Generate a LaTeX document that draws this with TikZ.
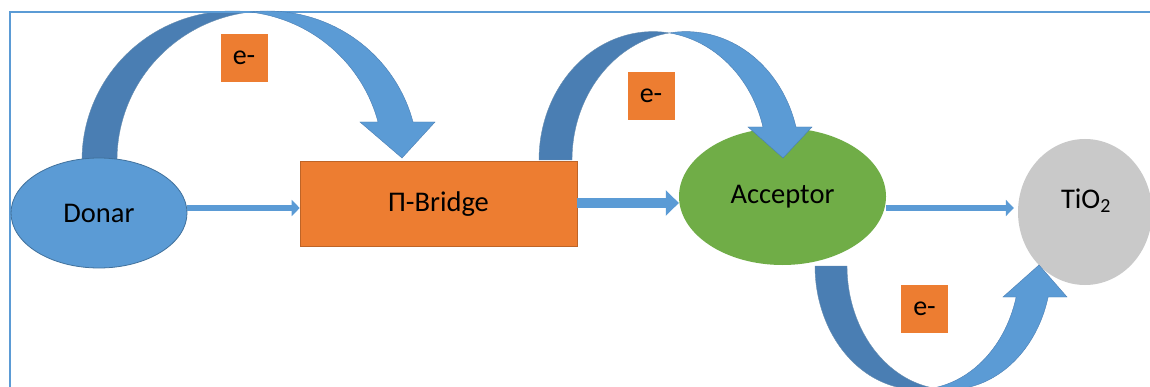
\documentclass[tikz,border=0pt]{standalone}
\usepackage{fontspec}
\setmainfont{Carlito}
\usetikzlibrary{shapes.geometric,arrows.meta}
\definecolor{pblue}{HTML}{5B9BD5}
\definecolor{dblue}{HTML}{41719C}
\definecolor{sblue}{HTML}{4A7EB3}
\definecolor{porange}{HTML}{ED7D31}
\definecolor{pgreen}{HTML}{70AD47}
\definecolor{pgray}{HTML}{C9C9C9}
\tikzset{
  lbl/.style={font=\fontsize{28.5}{32}\selectfont, text=black},
  ebox/.style={fill=porange, minimum width=47pt, minimum height=48pt, inner sep=0pt, font=\fontsize{28}{32}\selectfont},
  harrow/.style={pblue, line width=#1, -{Triangle[length=8pt,width=16pt]}},
  darkpart/.style={fill=sblue, draw=dblue!80, line width=0.4pt},
  lightpart/.style={fill=pblue, draw=sblue, line width=0.4pt},
}
\begin{document}
\begin{tikzpicture}[x=1pt,y=-1pt]
\useasboundingbox (0,0) rectangle (1150,387);
\fill[white] (0,0) rectangle (1150,387);

% back (darker) halves of the curved arrows
\filldraw[darkpart] plot[domain=180:83.3,samples=50] ({232.5+150.5*cos(\x)},{160-149*sin(\x)})
  -- plot[domain=96.7:180,samples=50] ({267.5+150.5*cos(\x)},{160-149*sin(\x)}) -- cycle;
\filldraw[darkpart] plot[domain=180:81.67,samples=50] ({652.9+113.9*cos(\x)},{160-128.4*sin(\x)})
  -- plot[domain=98.33:180,samples=50] ({685.9+113.9*cos(\x)},{160-128.4*sin(\x)}) -- cycle;
\filldraw[darkpart] plot[domain=180:279,samples=50] ({917.2+102.2*cos(\x)},{266-123.5*sin(\x)})
  -- plot[domain=261:180,samples=50] ({949.2+102.2*cos(\x)},{266-123.5*sin(\x)}) -- cycle;

\draw[pblue, line width=1.5pt] (10,12) rectangle (1170,400);

% nodes
\node[ellipse, fill=pblue, draw=dblue, line width=0.8pt, minimum width=176pt, minimum height=110pt, inner sep=0pt, lbl] (donar) at (99,213) {Donar};
\node[rectangle, fill=porange, draw=porange!80!black, line width=0.6pt, minimum width=277pt, minimum height=85pt, inner sep=0pt, lbl] (bridge) at (438.5,204) {Π-Bridge};
\node[ellipse, fill=pgreen, minimum width=207pt, minimum height=137pt, inner sep=0pt, lbl] (acceptor) at (782.5,196.5) {Acceptor};
\node[ellipse, fill=pgray, minimum width=134pt, minimum height=146pt, inner sep=0pt] (tio2) at (1085,212) {};
\node[lbl] (tio2txt) at (1086,201) {TiO\textsubscript{2}};

% front (lighter) halves with arrow heads
\filldraw[lightpart] plot[domain=96.7:14.78,samples=50] ({267.5+150.5*cos(\x)},{160-149*sin(\x)})
  -- (435,122) -- (402,158) -- (360,122)
  -- plot[domain=14.78:83.3,samples=50] ({232.5+150.5*cos(\x)},{160-149*sin(\x)}) -- cycle;
\filldraw[lightpart] plot[domain=98.33:14.9,samples=50] ({685.9+113.9*cos(\x)},{160-128.4*sin(\x)})
  -- (812,127) -- (783,158) -- (748,127)
  -- plot[domain=14.9:81.67,samples=50] ({652.9+113.9*cos(\x)},{160-128.4*sin(\x)}) -- cycle;
\filldraw[lightpart] plot[domain=261:345.46,samples=50] ({949.2+102.2*cos(\x)},{266-123.5*sin(\x)})
  -- (1067,297) -- (1039,265) -- (1003,297)
  -- plot[domain=345.46:279,samples=50] ({917.2+102.2*cos(\x)},{266-123.5*sin(\x)}) -- cycle;

\node[ebox] (e1) at (244,58) {e-};
\node[ebox] (e2) at (651,96) {e-};
\node[ebox] (e3) at (924.5,308.5) {e-};

% straight arrows
\draw[harrow=6pt] (donar.east |- 0,208) -- (bridge.west |- 0,208);
\draw[harrow=10pt, -{Triangle[length=13pt,width=25pt]}] (bridge.east |- 0,203) -- (acceptor.west |- 0,203);
\draw[harrow=6pt] (acceptor.east |- 0,208) -- ([xshift=-4pt]tio2.west |- 0,208);
\end{tikzpicture}
\end{document}
